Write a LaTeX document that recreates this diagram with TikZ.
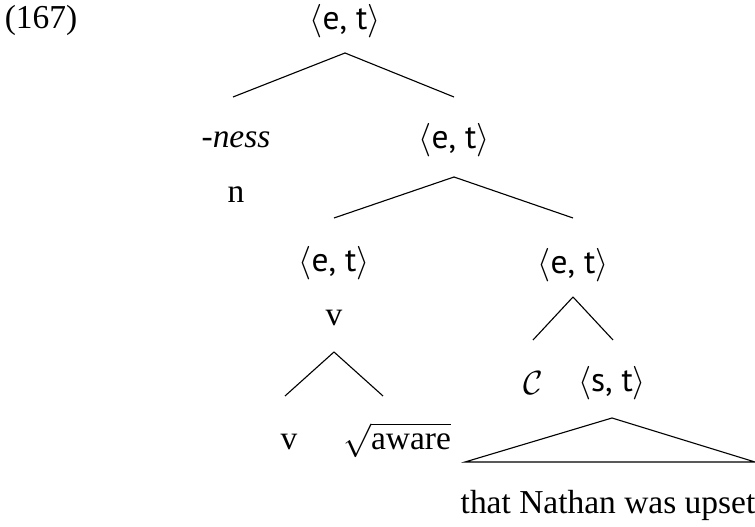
\documentclass[tikz,border=0pt]{standalone}
\usepackage{fontspec}
\setmainfont{Liberation Serif}
\newfontfamily\typefont{PT Sans}
\usetikzlibrary{calc}
\newcommand{\tp}[2]{$\langle${\typefont #1, #2}$\rangle$}
\begin{document}
\begin{tikzpicture}[x=0.0126cm,y=-0.0126cm,font=\fontsize{12}{14}\selectfont]
\useasboundingbox (0,0) rectangle (755,527);
\node (num) at (41,20) {(167)};
\node (top) at (345,21) {\tp{e}{t}};
\node (ness) at (236,140) {-\textit{ness}};
\node (n) at (236,195) {n};
\node (et1) at (454,140) {\tp{e}{t}};
\node (et2) at (334,263) {\tp{e}{t}};
\node (vbig) at (334,318) {v};
\node (vsmall) at (289,442) {v};
\node (aware) at (397,440) {$\sqrt{\mbox{aware}}$};
\node (et3) at (573,265) {\tp{e}{t}};
\node (cc) at (533,383) {$\mathcal{C}$};
\node (st) at (612,383) {\tp{s}{t}};
\node (clause) at (608,505) {that Nathan was upset};

\draw ($(top)+(0,32)$) -- ($(ness)+(-3,-43)$);
\draw ($(top)+(0,32)$) -- ($(et1)+(0,-43)$);
\draw ($(et1)+(0,37)$) -- ($(et2)+(0,-45)$);
\draw ($(et1)+(0,37)$) -- ($(et3)+(0,-47)$);
\draw ($(vbig)+(0,34)$) -- ($(vsmall)+(-4,-46)$);
\draw ($(vbig)+(0,34)$) -- ($(aware)+(-14,-44)$);
\draw ($(et3)+(0,32)$) -- ($(cc)+(0,-43)$);
\draw ($(et3)+(0,32)$) -- ($(st)+(1,-43)$);
\draw ($(st)+(0,35)$) -- ($(clause)+(-143,-43)$) -- ($(clause)+(147,-43)$) -- cycle;
\end{tikzpicture}
\end{document}
